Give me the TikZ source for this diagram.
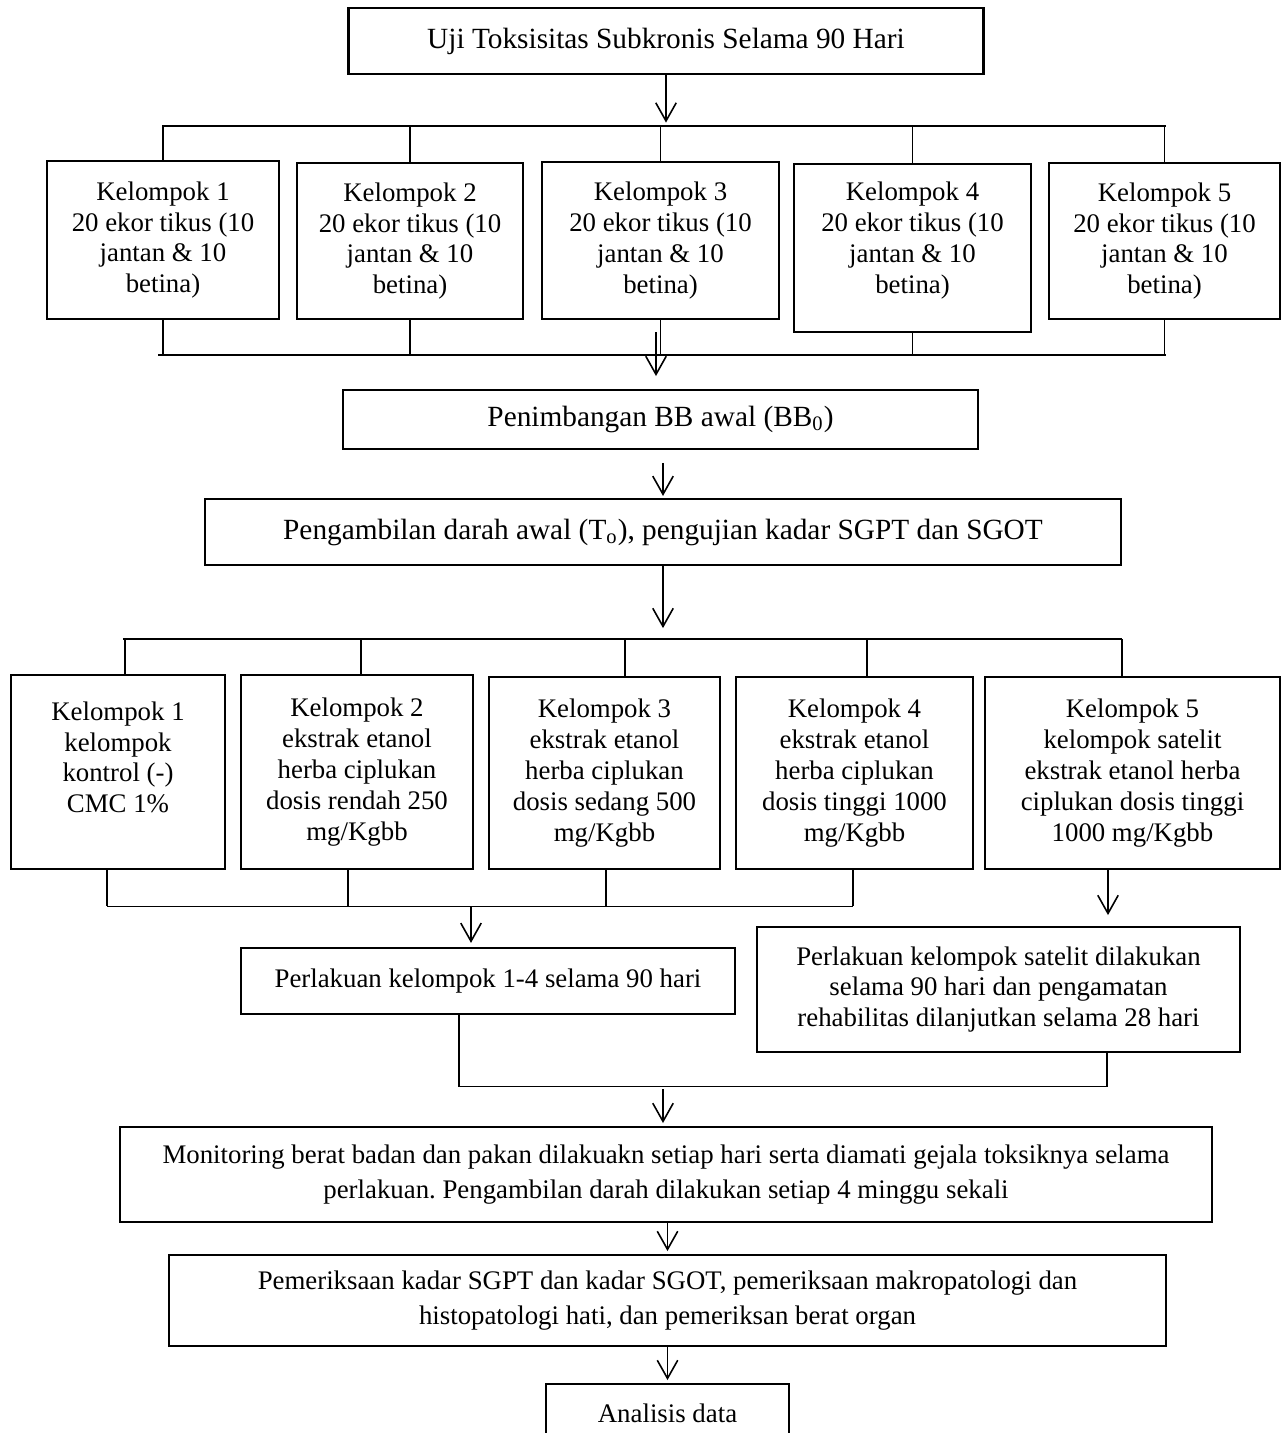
\documentclass[tikz,border=0pt]{standalone}
\usepackage{fontspec}
\setmainfont{Liberation Serif}
\usepackage{tikz}
\usetikzlibrary{arrows.meta}
\frenchspacing

\begin{document}
\begin{tikzpicture}[x=0.44pt, y=-0.44pt]
    \tikzstyle{box}=[draw, line width=0.9pt, align=center, inner sep=0pt,
            font=\fontsize{11.8}{13.6}\selectfont]
    \tikzstyle{bigbox}=[box, font=\fontsize{12.9}{14.8}\selectfont]
    \tikzstyle{widebox}=[box, font=\fontsize{11.8}{15.2}\selectfont]
    \tikzstyle{line}=[line width=0.45pt]
    \tikzstyle{arr}=[line width=0.7pt,
            -{Straight Barb[length=8pt,width=9pt]}]

    \useasboundingbox (0,0) rectangle (1283,1433);

    \node[bigbox, minimum width=635*0.44pt, minimum height=66*0.44pt]
        (uji) at (666,41) {Uji Toksisitas Subkronis Selama 90 Hari};

        % kelompok tikus
        \foreach \i/\x/\y/\w/\h in {1/163/240/232/158, 2/410/241/226/156,
            3/660.5/240.5/237/157, 5/1164.5/241/231/156}
        {
            \node[box, minimum width=\w*0.44pt, minimum height=\h*0.44pt]
            (k\i) at (\x,\y) {Kelompok \i\\20 ekor tikus (10\\jantan \& 10\\betina)};
        }
        \node[box, minimum width=237*0.44pt, minimum height=168*0.44pt]
        (k4) at (912.5,248) {Kelompok 4\\20 ekor tikus (10\\jantan \& 10\\betina)\\[-4.8pt]\mbox{}};

    \node[bigbox, minimum width=635*0.44pt, minimum height=59*0.44pt]
        (bb) at (660.5,419.5) {Penimbangan BB awal (BB\textsubscript{0})};
    \node[bigbox, minimum width=916*0.44pt, minimum height=66*0.44pt]
        (darah) at (663,532) {Pengambilan darah awal (T\textsubscript{o}), pengujian kadar SGPT dan SGOT};

        % kelompok perlakuan
        \node[box, minimum width=214*0.44pt, minimum height=194*0.44pt]
        (m1) at (118,772) {Kelompok 1\\kelompok\\kontrol (-)\\CMC 1\%\\[-0.6pt]\mbox{}};
        \node[box, minimum width=232*0.44pt, minimum height=194*0.44pt]
        (m2) at (357,772) {Kelompok 2\\ekstrak etanol\\herba ciplukan\\dosis rendah 250\\mg/Kgbb};
        \node[box, minimum width=231*0.44pt, minimum height=192*0.44pt]
        (m3) at (604.5,773) {Kelompok 3\\ekstrak etanol\\herba ciplukan\\dosis sedang 500\\mg/Kgbb};
        \node[box, minimum width=237*0.44pt, minimum height=192*0.44pt]
        (m4) at (854.5,773) {Kelompok 4\\ekstrak etanol\\herba ciplukan\\dosis tinggi 1000\\mg/Kgbb};
        \node[box, minimum width=295*0.44pt, minimum height=192*0.44pt]
        (m5) at (1132.5,773) {Kelompok 5\\kelompok satelit\\ekstrak etanol herba\\ciplukan dosis tinggi\\1000 mg/Kgbb};

    \node[box, minimum width=494*0.44pt, minimum height=66*0.44pt]
        (lak) at (488,981) {Perlakuan kelompok 1-4 selama 90 hari};
    \node[box, minimum width=483*0.44pt, minimum height=125*0.44pt]
        (sat) at (998.5,989.5) {Perlakuan kelompok satelit dilakukan\\selama 90 hari dan pengamatan\\rehabilitas dilanjutkan selama 28 hari};
    \node[widebox, minimum width=1092*0.44pt, minimum height=95*0.44pt]
        (mon) at (666,1174.5) {Monitoring berat badan dan pakan dilakuakn setiap hari serta diamati gejala toksiknya selama\\perlakuan. Pengambilan darah dilakukan setiap 4 minggu sekali};
    \node[widebox, minimum width=997*0.44pt, minimum height=91*0.44pt]
        (periksa) at (667.5,1300.5) {Pemeriksaan kadar SGPT dan kadar SGOT, pemeriksaan makropatologi dan\\histopatologi hati, dan pemeriksan berat organ};
    \node[box, minimum width=243*0.44pt, minimum height=58*0.44pt]
        (analisis) at (667.5,1413) {Analisis data};

        % uji -> kelompok tikus
        \coordinate (a1) at (162,126);
        \coordinate (a2) at (1166,126);
        \draw[arr, shorten >=1.5pt] (uji.south) -- (uji.south |- a1);
        \draw[line] (a1) -- (a2);
        \foreach \i in {1,2,3,4,5}
        {
            \draw[line] (k\i.north |- a1) -- (k\i.north);
        }

        % kelompok tikus -> penimbangan
        \coordinate (b1) at (158,355);
        \coordinate (b2) at (1166,355);
        \coordinate (bA) at (656,332);
        \draw[line] (b1) -- (b2);
        \foreach \i in {1,2,3,4,5}
        {
            \draw[line] (k\i.south) -- (k\i.south |- b1);
        }
        \draw[arr, shorten >=5.7pt] (bA) -- (bA |- bb.north);

        \draw[arr, shorten <=5.7pt, shorten >=0.9pt]
        (darah.north |- bb.south) -- (darah.north);

        % pengambilan darah -> kelompok perlakuan
        \foreach \i/\x in {1/125, 2/361, 3/625, 4/867, 5/1122}
        {
            \coordinate (c\i) at (\x,639);
            \draw[line] (c\i) -- (c\i |- m\i.north);
        }
        \draw[line] ([xshift=-0.9pt]c1) -- (c5);
        \draw[arr, shorten >=4.8pt] (darah.south) -- (darah.south |- c1);

        % kelompok perlakuan -> perlakuan
        \foreach \i/\x in {1/107, 2/348, 3/606, 4/853}
        {
            \coordinate (d\i) at (\x,906);
            \draw[line] (d\i |- m\i.south) -- (d\i);
        }
        \draw[line] (d1) -- (d4);
        \coordinate (dA) at (471,906);
        \draw[arr, shorten >=1.8pt] (dA) -- (dA |- lak.north);
        \coordinate (e5) at (1108,869);
        \draw[arr, shorten >=4.8pt] (e5 |- m5.south) -- (e5 |- sat.north);

        % perlakuan -> monitoring
        \coordinate (f1) at (459,1086);
        \coordinate (f2) at (1107,1086);
        \draw[line] (f1 |- lak.south) -- (f1) -- (f2) -- (f2 |- sat.south);
        \coordinate (fA) at (663,1089);
        \draw[arr, shorten >=1.3pt] (fA) -- (fA |- mon.north);

        \draw[arr, shorten >=1.3pt] (periksa.north |- mon.south) -- (periksa.north);
        \draw[arr, shorten >=1.3pt] (analisis.north |- periksa.south) -- (analisis.north);
\end{tikzpicture}
\end{document}
